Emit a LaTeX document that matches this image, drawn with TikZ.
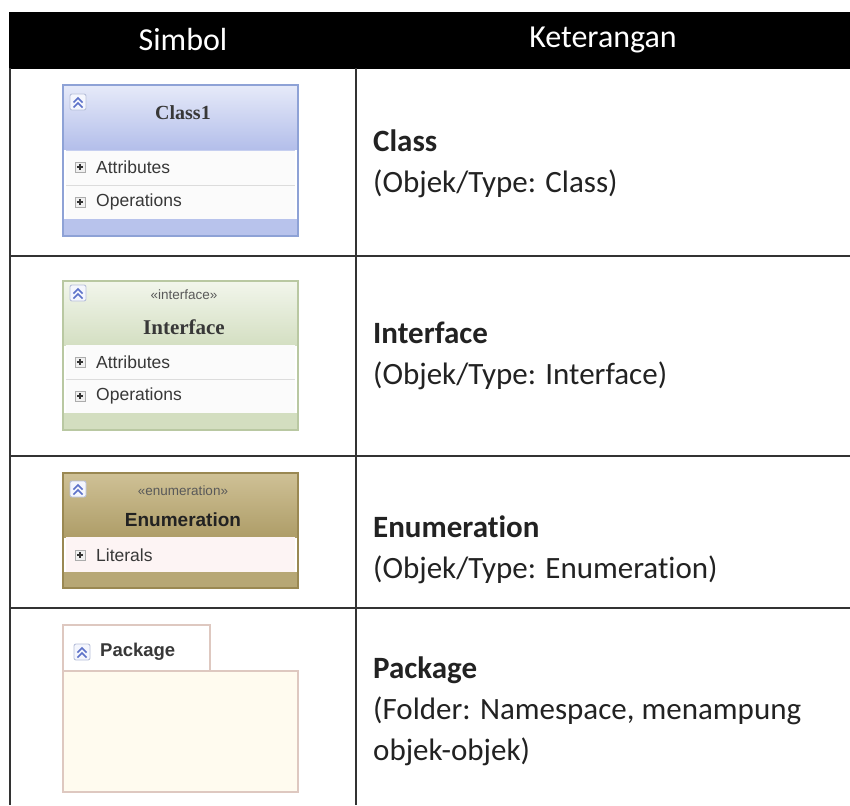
\documentclass[tikz,border=0pt]{standalone}
\usepackage{fontspec}
\setmainfont{Carlito}[Ligatures={NoCommon}]
\newfontfamily\umlsans{Liberation Sans}
\newfontfamily\umlserif{Liberation Serif}
\usetikzlibrary{shadings}
\definecolor{rulecol}{HTML}{333333}
\definecolor{clsBorder}{HTML}{8EA2D6}
\definecolor{clsTop}{HTML}{E6EAF9}
\definecolor{clsBot}{HTML}{B3BEEA}
\definecolor{clsBand}{HTML}{B8C3EC}
\definecolor{ifBorder}{HTML}{B9C8A2}
\definecolor{ifTop}{HTML}{F2F6EC}
\definecolor{ifBot}{HTML}{D4DFC2}
\definecolor{ifBand}{HTML}{D3DEC0}
\definecolor{enBorder}{HTML}{9A8852}
\definecolor{enTop}{HTML}{CFC196}
\definecolor{enBot}{HTML}{AE9D68}
\definecolor{enBand}{HTML}{B7A775}
\definecolor{enRow}{HTML}{FDF4F4}
\definecolor{pkBorder}{HTML}{DEC8C0}
\definecolor{pkFill}{HTML}{FFFBEF}
\definecolor{rowFill}{HTML}{FBFBFB}
\definecolor{rowSep}{HTML}{DCDCDC}
\definecolor{iconBlue}{HTML}{5D72C9}
\definecolor{iconEdge}{HTML}{B8C0DA}
\definecolor{iconFill}{HTML}{F4F6FD}
\definecolor{txt}{HTML}{222222}
\tikzset{
  tablerule/.style={draw=rulecol, line width=2pt},
  headtext/.style={text=white, font=\fontsize{32}{38}\selectfont, inner sep=0pt},
  desctext/.style={text=txt, font=\fontsize{31}{41}\selectfont, align=left, anchor=west, inner sep=0pt},
  rowtext/.style={text=txt!90, font=\umlsans\fontsize{17.5}{20}\selectfont, anchor=west, inner sep=0pt},
  stereo/.style={text=txt!75, font=\umlsans\fontsize{13.5}{16}\selectfont, inner sep=0pt},
  umlbox/.style={line width=1.5pt},
  rowsep/.style={draw=rowSep, line width=0.8pt},
  collapseicon/.pic={
    \draw[draw=iconEdge, fill=iconFill, rounded corners=2pt, line width=0.9pt] (-8,-8) rectangle (8,8);
    \draw[iconBlue, line width=1.5pt] (-4.5,0.5) -- (0,-4) -- (4.5,0.5);
    \draw[iconBlue, line width=1.5pt] (-4.5,5.5) -- (0,1) -- (4.5,5.5);
  },
  plusicon/.pic={
    \draw[draw=gray!65, fill=gray!12, line width=0.7pt] (-5,-5) rectangle (5,5);
    \draw[black!80, line width=1.1pt] (-3,0) -- (3,0) (0,-3) -- (0,3);
  }
}
\begin{document}
\begin{tikzpicture}[x=1pt, y=-1pt]
\useasboundingbox (0,0) rectangle (850,805);
\fill[white] (0,0) rectangle (850,805);

% header
\fill[black] (9,12) rectangle (850,69);
\node[headtext] (hsimbol) at (183,40) {Simbol};
\node[headtext] (hket) at (603,40) {Keterangan};

% table rules
\draw[tablerule] (10,68) -- (10,805);
\draw[tablerule] (356,68) -- (356,805);
\draw[tablerule] (10,256) -- (850,256);
\draw[tablerule] (10,456) -- (850,456);
\draw[tablerule] (10,608) -- (850,608);

% ---------- Class ----------
\shade[top color=clsTop, bottom color=clsBot] (63,85) rectangle (298,150);
\fill[rowFill] (66,150) rectangle (295,219);
\fill[clsBand] (63,219) rectangle (298,236);
\draw[rowsep] (66,185) -- (295,185);
\draw[draw=clsBand!80!white, line width=0.8pt] (66,150) -- (295,150);
\draw[umlbox, draw=clsBorder] (63,85) rectangle (298,236);
\pic at (78,102) {collapseicon};
\node[text=txt!90, font=\umlserif\bfseries\fontsize{20}{24}\selectfont, inner sep=0pt] (class1) at (183,113) {Class1};
\pic at (80,167) {plusicon};
\node[rowtext] (cattr) at (96,167) {Attributes};
\pic at (80,202) {plusicon};
\node[rowtext] (cops) at (96,202) {Operations};

% ---------- Interface ----------
\shade[top color=ifTop, bottom color=ifBot] (63,281) rectangle (298,345);
\fill[rowFill] (66,345) rectangle (295,413);
\fill[ifBand] (63,413) rectangle (298,430);
\draw[rowsep] (66,379) -- (295,379);
\draw[umlbox, draw=ifBorder] (63,281) rectangle (298,430);
\pic at (78,293) {collapseicon};
\node[stereo] (istereo) at (184,295) {«interface»};
\node[text=txt!90, font=\umlserif\bfseries\fontsize{21}{24}\selectfont, inner sep=0pt] (iname) at (184,327) {Interface};
\pic at (80,362) {plusicon};
\node[rowtext] (iattr) at (96,362) {Attributes};
\pic at (80,396) {plusicon};
\node[rowtext] (iops) at (96,396) {Operations};

% ---------- Enumeration ----------
\shade[top color=enTop, bottom color=enBot] (63,473) rectangle (298,537);
\fill[enRow] (66,537) rectangle (295,572);
\fill[enBand] (63,572) rectangle (298,588);
\draw[umlbox, draw=enBorder] (63,473) rectangle (298,588);
\pic at (78,489) {collapseicon};
\node[stereo] (estereo) at (183,491) {«enumeration»};
\node[text=txt, font=\umlsans\bfseries\fontsize{19}{22}\selectfont, inner sep=0pt] (ename) at (183,520) {Enumeration};
\pic at (80,555) {plusicon};
\node[rowtext] (elit) at (96,555) {Literals};

% ---------- Package ----------
\filldraw[fill=white, draw=pkBorder, line width=1.5pt] (63,625) rectangle (210,671);
\filldraw[fill=pkFill, draw=pkBorder, line width=1.5pt] (63,671) rectangle (298,792);
\pic at (82,652) {collapseicon};
\node[text=txt!90, font=\umlsans\bfseries\fontsize{18.5}{22}\selectfont, anchor=west, inner sep=0pt] (pname) at (100,652) {Package};

% ---------- Descriptions ----------
\node[desctext] (dclass) at (373,164) {\textbf{Class}\\(Objek/Type: Class)};
\node[desctext] (dif) at (373,356) {\textbf{Interface}\\(Objek/Type: Interface)};
\node[desctext] (denum) at (373,550) {\textbf{Enumeration}\\(Objek/Type: Enumeration)};
\node[desctext] (dpack) at (373,711) {\textbf{Package}\\(Folder: Namespace, menampung\\objek-objek)};
\end{tikzpicture}
\end{document}
